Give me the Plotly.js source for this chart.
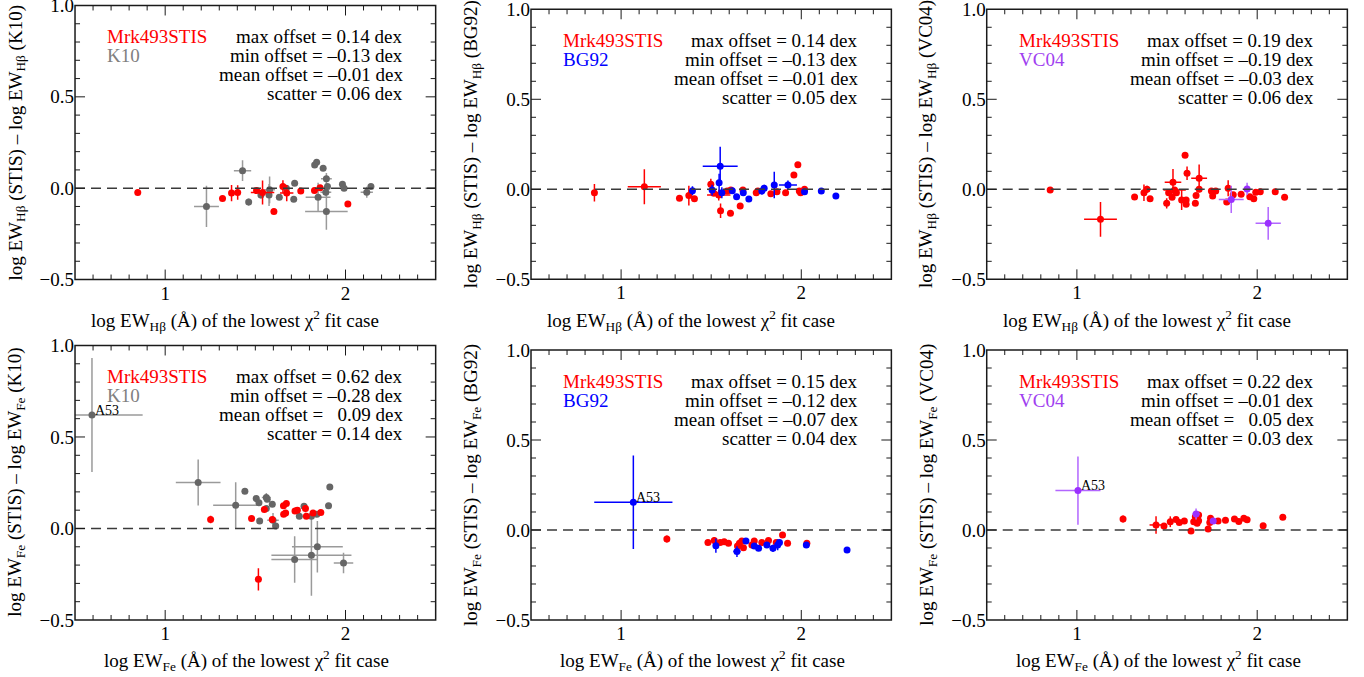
<!DOCTYPE html>
<html><head><meta charset="utf-8">
<script src="https://cdn.plot.ly/plotly-3.0.1.min.js"></script>
<style>html,body{margin:0;padding:0;background:#fff}</style>
</head><body><div id="chart" style="width:1364px;height:677px"></div>
<script>
// ---------------- DATA ----------------
const p1RedX  = [0.848, 1.318, 1.368, 1.402, 1.507, 1.540, 1.603, 1.653, 1.674, 1.752, 1.828, 1.859, 2.013];
const p1RedY  = [-0.024, -0.057, -0.027, -0.024, -0.013, -0.024, -0.128, 0.009, -0.027, -0.015, -0.013, 0.003, -0.086];
const p1RedEx = [0, 0, 0, 0, 0, 0.065, 0, 0, 0.037, 0, 0, 0, 0];
const p1RedEy = [0.015, 0, 0.044, 0.04, 0, 0.066, 0, 0.034, 0.045, 0, 0, 0, 0];
const p1CmpX  = [1.229, 1.429, 1.463, 1.531, 1.579, 1.576, 1.633, 1.672, 1.718, 1.713, 1.829, 1.840, 1.876, 1.894, 1.848, 1.894, 1.891, 1.900, 1.983, 1.992, 2.118, 2.141];
const p1CmpY  = [-0.100, 0.096, -0.076, -0.037, -0.009, -0.037, -0.049, 0.000, 0.027, -0.060, 0.127, 0.142, 0.109, 0.051, -0.049, -0.128, -0.022, 0.009, 0.022, 0.000, -0.022, 0.009];
const p1CmpEx = [0.069, 0.048, 0, 0, 0.03, 0, 0, 0, 0, 0, 0, 0, 0, 0.03, 0.069, 0.118, 0.03, 0, 0, 0, 0.034, 0];
const p1CmpEy = [0.113, 0.057, 0.02, 0.02, 0.073, 0.06, 0, 0, 0, 0, 0, 0, 0, 0.032, 0.079, 0.10, 0.02, 0, 0, 0, 0.03, 0];

const p2RedX  = [0.852, 1.129, 1.324, 1.376, 1.407, 1.498, 1.515, 1.542, 1.552, 1.589, 1.609, 1.607, 1.661, 1.676, 1.750, 1.759, 1.831, 1.865, 1.913, 1.959, 1.981, 1.989, 1.996, 2.018];
const p2RedY  = [-0.019, 0.014, -0.050, -0.035, -0.052, 0.028, -0.022, -0.032, -0.119, -0.009, -0.004, -0.133, -0.093, -0.004, -0.019, -0.009, -0.024, -0.013, -0.019, 0.079, 0.137, -0.009, -0.019, 0.000];
const p2RedEx = [0, 0.092, 0, 0, 0, 0, 0, 0.065, 0, 0, 0, 0, 0, 0, 0, 0, 0, 0, 0, 0, 0, 0, 0, 0];
const p2RedEy = [0.049, 0.097, 0, 0.055, 0, 0.03, 0, 0.03, 0.04, 0, 0, 0, 0, 0, 0, 0, 0, 0, 0, 0, 0, 0, 0, 0];
const p2CmpX  = [1.396, 1.505, 1.550, 1.544, 1.559, 1.617, 1.641, 1.678, 1.709, 1.781, 1.794, 1.850, 1.926, 2.018, 2.111, 2.192];
const p2CmpY  = [-0.008, -0.004, 0.128, 0.037, -0.019, -0.008, -0.041, -0.019, -0.054, -0.009, 0.006, 0.024, 0.024, -0.013, -0.009, -0.037];
const p2CmpEx = [0, 0, 0.097, 0, 0, 0, 0, 0, 0, 0, 0, 0, 0.05, 0, 0, 0];
const p2CmpEy = [0.025, 0.03, 0.109, 0.05, 0.03, 0, 0, 0, 0, 0.02, 0.02, 0.074, 0.025, 0, 0, 0];

const p3RedX  = [0.852, 1.131, 1.320, 1.372, 1.389, 1.406, 1.498, 1.509, 1.533, 1.528, 1.542, 1.552, 1.581, 1.600, 1.606, 1.606, 1.611, 1.657, 1.661, 1.678, 1.678, 1.746, 1.753, 1.770, 1.831, 1.839, 1.867, 1.911, 1.959, 1.981, 1.992, 2.017, 2.100, 2.152];
const p3RedY  = [-0.004, -0.167, -0.043, -0.019, 0.000, -0.052, -0.078, -0.019, 0.039, -0.044, -0.004, -0.019, -0.059, 0.189, -0.059, -0.083, 0.089, -0.078, -0.035, 0.061, 0.000, -0.009, -0.037, -0.009, -0.070, 0.006, -0.030, -0.028, -0.041, -0.052, -0.017, -0.013, -0.013, -0.044];
const p3RedEx = [0, 0.091, 0, 0, 0, 0, 0, 0, 0.046, 0, 0.062, 0, 0, 0, 0, 0, 0, 0, 0, 0.044, 0, 0, 0, 0, 0, 0, 0, 0, 0, 0, 0, 0, 0, 0];
const p3RedEy = [0, 0.097, 0, 0.046, 0.02, 0, 0.028, 0, 0.074, 0, 0, 0, 0.056, 0, 0, 0, 0.037, 0, 0, 0.077, 0, 0, 0, 0, 0, 0.044, 0, 0, 0, 0, 0, 0, 0, 0];
const p3CmpX  = [1.856, 1.944, 2.061];
const p3CmpY  = [-0.056, 0.002, -0.189];
const p3CmpEx = [0.069, 0, 0.07];
const p3CmpEy = [0.076, 0.034, 0.091];

const p4RedX  = [1.252, 1.479, 1.550, 1.594, 1.656, 1.672, 1.657, 1.668, 1.720, 1.733, 1.778, 1.783, 1.820, 1.863, 1.517];
const p4RedY  = [0.049, 0.055, 0.104, 0.049, 0.124, 0.136, 0.078, 0.085, 0.096, 0.100, 0.109, 0.067, 0.085, 0.087, -0.278];
const p4RedEx = [0, 0, 0, 0, 0, 0, 0, 0, 0, 0, 0, 0, 0, 0, 0];
const p4RedEy = [0.02, 0, 0, 0, 0, 0, 0, 0, 0, 0, 0.02, 0, 0, 0, 0.061];
const p4CmpX  = [0.594, 1.183, 1.391, 1.442, 1.505, 1.520, 1.524, 1.561, 1.566, 1.594, 1.561, 1.598, 1.613, 1.744, 1.770, 1.811, 1.841, 1.906, 1.913, 1.718, 1.811, 1.844, 1.989];
const p4CmpY  = [0.620, 0.251, 0.127, 0.203, 0.164, 0.140, 0.041, 0.169, 0.160, 0.133, 0.109, 0.045, 0.013, 0.067, 0.122, 0.067, 0.078, 0.124, 0.227, -0.169, -0.146, -0.100, -0.188];
const p4CmpEx = [0.281, 0.124, 0.125, 0, 0, 0, 0, 0.025, 0, 0, 0, 0.032, 0, 0, 0, 0, 0, 0, 0, 0.129, 0.222, 0.141, 0.054];
const p4CmpEy = [0.311, 0.126, 0.125, 0, 0, 0, 0, 0.025, 0, 0, 0, 0.04, 0, 0, 0, 0, 0, 0, 0, 0.127, 0.221, 0.141, 0.056];

const p5RedX  = [1.254, 1.482, 1.517, 1.550, 1.572, 1.596, 1.646, 1.657, 1.670, 1.679, 1.726, 1.739, 1.781, 1.818, 1.861, 1.896, 1.924, 2.031];
const p5RedY  = [-0.050, -0.070, -0.059, -0.070, -0.065, -0.074, -0.089, -0.074, -0.061, -0.098, -0.083, -0.061, -0.070, -0.059, -0.070, -0.028, -0.074, -0.074];
const p5RedEx = [0, 0, 0, 0, 0, 0, 0, 0, 0, 0, 0, 0, 0, 0, 0, 0, 0, 0];
const p5RedEy = [0.02, 0, 0.02, 0, 0, 0, 0, 0, 0, 0, 0, 0, 0, 0, 0, 0, 0, 0];
const p5CmpX  = [1.068, 1.526, 1.643, 1.693, 1.739, 1.763, 1.809, 1.843, 1.869, 1.879, 2.028, 2.254];
const p5CmpY  = [0.154, -0.087, -0.120, -0.061, -0.089, -0.102, -0.083, -0.102, -0.083, -0.070, -0.083, -0.111];
const p5CmpEx = [0.217, 0, 0.02, 0, 0, 0, 0, 0, 0, 0, 0, 0];
const p5CmpEy = [0.26, 0.04, 0.03, 0, 0, 0, 0, 0.02, 0.03, 0, 0, 0];

const p6RedX  = [1.256, 1.439, 1.483, 1.518, 1.550, 1.568, 1.596, 1.633, 1.648, 1.657, 1.675, 1.667, 1.675, 1.728, 1.741, 1.737, 1.783, 1.824, 1.874, 1.898, 1.926, 1.944, 2.033, 2.142];
const p6RedY  = [0.061, 0.028, 0.022, 0.046, 0.059, 0.041, 0.050, -0.006, 0.046, 0.074, 0.083, 0.037, 0.052, 0.006, 0.065, 0.041, 0.050, 0.054, 0.061, 0.047, 0.065, 0.057, 0.024, 0.071];
const p6RedEx = [0, 0.036, 0, 0, 0, 0, 0, 0, 0, 0, 0, 0, 0, 0, 0, 0, 0, 0, 0, 0, 0, 0, 0, 0];
const p6RedEy = [0.02, 0.049, 0, 0.03, 0, 0, 0, 0, 0, 0, 0, 0, 0, 0, 0, 0, 0, 0, 0, 0, 0, 0, 0, 0];
const p6CmpX  = [1.006, 1.661, 1.756];
const p6CmpY  = [0.219, 0.089, 0.050];
const p6CmpEx = [0.125, 0.02, 0];
const p6CmpEy = [0.19, 0.03, 0];

const refNames = ['K10', 'BG92', 'VC04', 'K10', 'BG92', 'VC04'];
const stisName = 'Mrk493STIS';
const lineNames = ['H\u03b2', 'H\u03b2', 'H\u03b2', 'Fe', 'Fe', 'Fe'];
const maxOff  = ['0.14', '0.14', '0.19', '0.62', '0.15', '0.22'];
const minOff  = ['\u20130.13', '\u20130.13', '\u20130.19', '\u20130.28', '\u20130.12', '\u20130.01'];
const meanOff = ['\u20130.01', '\u20130.01', '\u20130.03', '\u20020.09', '\u20130.07', '\u20020.05'];
const scatter = ['0.06', '0.05', '0.06', '0.14', '0.04', '0.03'];
const a53Label = 'A53';

// ---------------- STYLE ----------------
const RED = '#ff0000';
const cmpColors = ['#666666', '#0000ff', '#9b30ff', '#666666', '#0000ff', '#9b30ff'];
const cmpErrColors = ['#9a9a9a', '#0000ff', '#b266ff', '#9a9a9a', '#0000ff', '#b266ff'];
const cmpTextColors = ['#808080', '#0000ff', '#a040f0', '#808080', '#0000ff', '#a040f0'];
const FONT = 'Liberation Serif, Times New Roman, serif';
const AXC = '#1a1a1a';
const X_RANGE = [0.5, 2.5], Y_RANGE = [-0.5, 1.0];

const xDomains = [[0.0550, 0.3194], [0.3893, 0.6535], [0.7234, 0.9878], [0.0550, 0.3194], [0.3893, 0.6535], [0.7234, 0.9878]];
const yDomains = [[0.5871, 0.9919], [0.5874, 0.9863], [0.5874, 0.9863], [0.0842, 0.4897], [0.0842, 0.4830], [0.0842, 0.4830]];

const panels = [
  {rx: p1RedX, ry: p1RedY, rex: p1RedEx, rey: p1RedEy, cx: p1CmpX, cy: p1CmpY, cex: p1CmpEx, cey: p1CmpEy, cmpFirst: true},
  {rx: p2RedX, ry: p2RedY, rex: p2RedEx, rey: p2RedEy, cx: p2CmpX, cy: p2CmpY, cex: p2CmpEx, cey: p2CmpEy, cmpFirst: false},
  {rx: p3RedX, ry: p3RedY, rex: p3RedEx, rey: p3RedEy, cx: p3CmpX, cy: p3CmpY, cex: p3CmpEx, cey: p3CmpEy, cmpFirst: false},
  {rx: p4RedX, ry: p4RedY, rex: p4RedEx, rey: p4RedEy, cx: p4CmpX, cy: p4CmpY, cex: p4CmpEx, cey: p4CmpEy, cmpFirst: true},
  {rx: p5RedX, ry: p5RedY, rex: p5RedEx, rey: p5RedEy, cx: p5CmpX, cy: p5CmpY, cex: p5CmpEx, cey: p5CmpEy, cmpFirst: false},
  {rx: p6RedX, ry: p6RedY, rex: p6RedEx, rey: p6RedEy, cx: p6CmpX, cy: p6CmpY, cex: p6CmpEx, cey: p6CmpEy, cmpFirst: false}
];

function mk(x, y, ex, ey, col, ecol, xa, ya) {
  return {
    type: 'scatter', mode: 'markers', x: x, y: y, xaxis: xa, yaxis: ya,
    marker: {color: col, size: 7, line: {width: 0}},
    error_x: {type: 'data', array: ex, visible: true, color: ecol, thickness: 1.5, width: 0},
    error_y: {type: 'data', array: ey, visible: true, color: ecol, thickness: 1.5, width: 0},
    hoverinfo: 'skip', showlegend: false
  };
}
function axisBase() {
  return {
    showgrid: false, zeroline: false, showline: false, ticks: '',
    tickfont: {family: FONT, size: 19, color: '#000'}, ticklabeloverflow: 'allow'
  };
}

const traces = [];
const layout = {
  width: 1364, height: 677, margin: {l: 0, r: 0, t: 0, b: 0},
  paper_bgcolor: '#ffffff', plot_bgcolor: '#ffffff',
  font: {family: FONT, size: 19, color: '#000'},
  showlegend: false, annotations: [], shapes: []
};

panels.forEach((p, i) => {
  const n = i + 1;
  const xa = 'x' + (n === 1 ? '' : n), ya = 'y' + (n === 1 ? '' : n);
  const xk = 'xaxis' + (n === 1 ? '' : n), yk = 'yaxis' + (n === 1 ? '' : n);
  const xd = xa + ' domain', yd = ya + ' domain';
  const red = mk(p.rx, p.ry, p.rex, p.rey, RED, RED, xa, ya);
  const cmp = mk(p.cx, p.cy, p.cex, p.cey, cmpColors[i], cmpErrColors[i], xa, ya);
  if (p.cmpFirst) { traces.push(cmp, red); } else { traces.push(red, cmp); }

  layout[xk] = Object.assign(axisBase(), {
    domain: xDomains[i], range: X_RANGE.slice(), tick0: 0, dtick: 1, anchor: ya, tickformat: 'd'
  });
  layout[yk] = Object.assign(axisBase(), {
    domain: yDomains[i], range: Y_RANGE.slice(), tick0: 0, dtick: 0.5, anchor: xa, tickformat: '.1f'
  });

  // dashed zero line
  layout.shapes.push({type: 'line', xref: xd, yref: ya, x0: 0, x1: 1, y0: 0, y1: 0,
    line: {color: '#3a3a3a', width: 1.5, dash: '10px,6px'}});

  // inward tick marks on all four sides (major every 1 / 0.5, minor every 0.1)
  for (let k = Math.round(X_RANGE[0] * 10) + 1; k < Math.round(X_RANGE[1] * 10); k++) {
    const len = (k % 10 === 0) ? 10 : 5;
    [[0, len], [1, -len]].forEach(([anc, l]) => {
      layout.shapes.push({type: 'line', xref: xa, yref: yd, x0: k / 10, x1: k / 10,
        ysizemode: 'pixel', yanchor: anc, y0: 0, y1: l, line: {color: AXC, width: 1}});
    });
  }
  for (let k = Math.round(Y_RANGE[0] * 10) + 1; k < Math.round(Y_RANGE[1] * 10); k++) {
    const len = (k % 5 === 0) ? 10 : 5;
    [[0, len], [1, -len]].forEach(([anc, l]) => {
      layout.shapes.push({type: 'line', xref: xd, yref: ya, y0: k / 10, y1: k / 10,
        xsizemode: 'pixel', xanchor: anc, x0: 0, x1: l, line: {color: AXC, width: 1}});
    });
  }
  // frame
  layout.shapes.push({type: 'rect', xref: xd, yref: yd, x0: 0, x1: 1, y0: 0, y1: 1,
    line: {color: AXC, width: 1.5}, fillcolor: 'rgba(0,0,0,0)'});

  const stats = ['max offset = ' + maxOff[i] + ' dex', 'min offset = ' + minOff[i] + ' dex',
                 'mean offset = ' + meanOff[i] + ' dex', 'scatter = ' + scatter[i] + ' dex'];
  stats.forEach((s, k) => {
    layout.annotations.push({xref: xd, yref: yd, x: 1, y: 1, xanchor: 'right', yanchor: 'middle',
      xshift: -31, yshift: -(31 + 19 * k), text: s, showarrow: false,
      font: {family: FONT, size: 19, color: '#000'}});
  });
  layout.annotations.push({xref: xd, yref: yd, x: 0, y: 1, xanchor: 'left', yanchor: 'middle',
    xshift: 30, yshift: -31, text: stisName, showarrow: false, font: {family: FONT, size: 19, color: RED}});
  layout.annotations.push({xref: xd, yref: yd, x: 0, y: 1, xanchor: 'left', yanchor: 'middle',
    xshift: 30, yshift: -50, text: refNames[i], showarrow: false, font: {family: FONT, size: 19, color: cmpTextColors[i]}});

  const ln = lineNames[i];
  layout.annotations.push({xref: xd, yref: yd, x: 0.5, y: 0, xanchor: 'center', yanchor: 'middle',
    xshift: (ln === 'Fe' ? -9 : -20), yshift: -41,
    text: 'log EW<sub>' + ln + '</sub> (\u00c5) of the lowest \u03c7<sup>2</sup> fit case',
    showarrow: false, font: {family: FONT, size: 19, color: '#000'}});
  layout.annotations.push({xref: xd, yref: yd, x: 0, y: 0.5, xanchor: 'center', yanchor: 'middle',
    xshift: -59, yshift: 0, textangle: -90,
    text: 'log EW<sub>' + ln + '</sub> (STIS) \u2013 log EW<sub>' + ln + '</sub> (' + refNames[i] + ')',
    showarrow: false, font: {family: FONT, size: 19, color: '#000'}});

  if (i >= 3) {
    layout.annotations.push({xref: xa, yref: ya, x: p.cx[0], y: p.cy[0], xanchor: 'left', yanchor: 'middle',
      xshift: 1, yshift: 5, text: a53Label, showarrow: false, font: {family: FONT, size: 14, color: '#000'}});
  }
});

Plotly.newPlot('chart', traces, layout, {staticPlot: true, displayModeBar: false});
</script></body></html>
